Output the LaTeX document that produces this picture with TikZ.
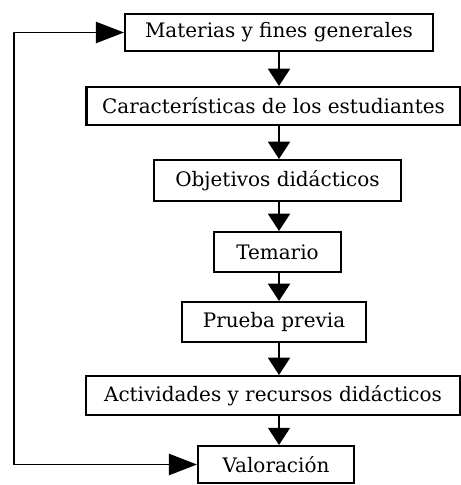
\documentclass[tikz,border=0pt]{standalone}
\usepackage{fontspec}
\setmainfont{DejaVu Serif}
\usepackage{tikz}
\usetikzlibrary{arrows.meta}
\tikzstyle{caja} = [rectangle, draw=black, line width=1.5pt, inner sep=0pt, text centered, font=\fontsize{14.2}{16}\selectfont]
\tikzstyle{flecha} = [line width=1.2pt, -{Triangle[length=4.3mm, width=5.5mm]}]
\tikzstyle{retorno} = [line width=1.2pt, {Triangle[length=7mm, width=5.3mm]}-{Triangle[length=7mm, width=5.3mm]}]

\begin{document}
\begin{tikzpicture}

    \useasboundingbox (0,0) rectangle (11.525,-12.125);

    \node (materias) [caja, minimum width=7.7cm, minimum height=0.925cm] at (6.975,-0.8125) {Materias y fines generales};
    \node (caracteristicas) [caja, minimum width=9.35cm, minimum height=0.95cm] at (6.8375,-2.65) {Características de los estudiantes};
    \node (objetivos) [caja, minimum width=6.175cm, minimum height=1.025cm] at (6.9375,-4.5125) {Objetivos didácticos};
    \node (temario) [caja, minimum width=3.175cm, minimum height=1cm] at (6.9375,-6.3) {Temario};
    \node (prueba) [caja, minimum width=4.6cm, minimum height=1cm] at (6.85,-8.05) {Prueba previa};
    \node (actividades) [caja, minimum width=9.35cm, minimum height=0.975cm] at (6.825,-9.8875) {Actividades y recursos didácticos};
    \node (valoracion) [caja, minimum width=3.9cm, minimum height=0.925cm] at (6.9,-11.6125) {Valoración};

    \coordinate (vuelta) at (0.35,-11.575);

    \draw[flecha] (materias.south) -- (materias.south |- caracteristicas.north);
    \draw[flecha] (materias.south |- caracteristicas.south) -- (materias.south |- objetivos.north);
    \draw[flecha] (materias.south |- objetivos.south) -- (materias.south |- temario.north);
    \draw[flecha] (materias.south |- temario.south) -- (materias.south |- prueba.north);
    \draw[flecha] (materias.south |- prueba.south) -- (materias.south |- actividades.north);
    \draw[flecha] (materias.south |- actividades.south) -- (materias.south |- valoracion.north);
    \draw[retorno] (valoracion.west) -- (valoracion.west -| vuelta) |- (materias.west);

\end{tikzpicture}
\end{document}
